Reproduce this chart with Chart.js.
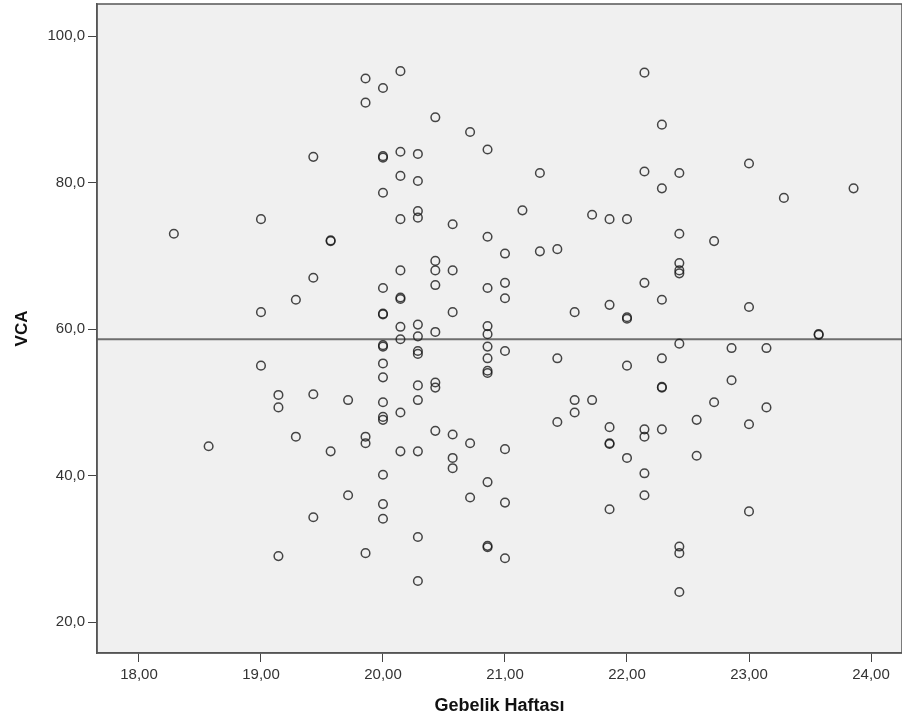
<!DOCTYPE html>
<html>
<head>
<meta charset="utf-8">
<script src="https://cdn.jsdelivr.net/npm/chart.js@4/dist/chart.umd.min.js"></script>
<style>
  html, body { margin: 0; padding: 0; background: #ffffff; }
  #wrap { width: 902px; height: 728px; }
</style>
</head>
<body>
<div id="wrap"><canvas id="c" width="902" height="728"></canvas></div>
<script>
// ---- Data ----
const gebelikHaftasi = [
  18.286,
  18.571,
  19.000, 19.000, 19.000,
  19.143, 19.143, 19.143,
  19.286, 19.286,
  19.429, 19.429, 19.429, 19.429,
  19.571, 19.571, 19.571,
  19.714, 19.714,
  19.857, 19.857, 19.857, 19.857, 19.857,
  20.000, 20.000, 20.000, 20.000, 20.000, 20.000, 20.000, 20.000, 20.000, 20.000, 20.000, 20.000, 20.000, 20.000, 20.000, 20.000, 20.000,
  20.143, 20.143, 20.143, 20.143, 20.143, 20.143, 20.143, 20.143, 20.143, 20.143, 20.143,
  20.286, 20.286, 20.286, 20.286, 20.286, 20.286, 20.286, 20.286, 20.286, 20.286, 20.286, 20.286, 20.286,
  20.429, 20.429, 20.429, 20.429, 20.429, 20.429, 20.429, 20.429,
  20.571, 20.571, 20.571, 20.571, 20.571, 20.571,
  20.714, 20.714, 20.714,
  20.857, 20.857, 20.857, 20.857, 20.857, 20.857, 20.857, 20.857, 20.857, 20.857, 20.857, 20.857,
  21.000, 21.000, 21.000, 21.000, 21.000, 21.000, 21.000,
  21.143,
  21.286, 21.286,
  21.429, 21.429, 21.429,
  21.571, 21.571, 21.571,
  21.714, 21.714,
  21.857, 21.857, 21.857, 21.857, 21.857, 21.857,
  22.000, 22.000, 22.000, 22.000, 22.000,
  22.143, 22.143, 22.143, 22.143, 22.143, 22.143, 22.143,
  22.286, 22.286, 22.286, 22.286, 22.286, 22.286, 22.286,
  22.429, 22.429, 22.429, 22.429, 22.429, 22.429, 22.429, 22.429, 22.429,
  22.571, 22.571,
  22.714, 22.714,
  22.857, 22.857,
  23.000, 23.000, 23.000, 23.000,
  23.143, 23.143,
  23.286,
  23.571, 23.571,
  23.857
];
const vca = [
  73.0,
  44.0,
  75.0, 62.3, 55.0,
  51.0, 49.3, 29.0,
  64.0, 45.3,
  83.5, 67.0, 51.1, 34.3,
  72.0, 72.1, 43.3,
  50.3, 37.3,
  94.2, 90.9, 45.3, 44.4, 29.4,
  92.9, 83.4, 83.6, 78.6, 65.6, 62.0, 62.1, 57.6, 57.8, 55.3, 53.4, 50.0, 48.0, 47.6, 40.1, 36.1, 34.1,
  95.2, 84.2, 80.9, 75.0, 68.0, 64.1, 64.3, 60.3, 58.6, 48.6, 43.3,
  83.9, 80.2, 76.1, 75.2, 60.6, 59.0, 57.0, 56.6, 52.3, 50.3, 43.3, 31.6, 25.6,
  88.9, 69.3, 68.0, 66.0, 59.6, 52.7, 52.0, 46.1,
  74.3, 68.0, 62.3, 45.6, 42.4, 41.0,
  86.9, 44.4, 37.0,
  84.5, 72.6, 65.6, 60.4, 59.3, 57.6, 56.0, 54.3, 54.0, 39.1, 30.4, 30.2,
  70.3, 66.3, 64.2, 57.0, 43.6, 36.3, 28.7,
  76.2,
  81.3, 70.6,
  70.9, 56.0, 47.3,
  62.3, 50.3, 48.6,
  75.6, 50.3,
  75.0, 63.3, 46.6, 44.3, 44.4, 35.4,
  75.0, 61.4, 61.6, 55.0, 42.4,
  95.0, 81.5, 66.3, 46.3, 45.3, 40.3, 37.3,
  87.9, 79.2, 64.0, 56.0, 52.0, 52.1, 46.3,
  81.3, 73.0, 69.0, 68.0, 67.6, 58.0, 30.3, 29.4, 24.1,
  47.6, 42.7,
  72.0, 50.0,
  57.4, 53.0,
  82.6, 63.0, 47.0, 35.1,
  57.4, 49.3,
  77.9,
  59.2, 59.3,
  79.2
];
const vcaMean = [58.6];
const xTicks = [18, 19, 20, 21, 22, 23, 24];
const xTickLabels = ['18,00', '19,00', '20,00', '21,00', '22,00', '23,00', '24,00'];
const yTicks = [20, 40, 60, 80, 100];
const yTickLabels = ['20,0', '40,0', '60,0', '80,0', '100,0'];
const xRange = [17.656, 24.254];
const yRange = [15.77, 104.37];

// ---- Build ----
const points = gebelikHaftasi.map((w, i) => ({ x: w, y: vca[i] }));
const meanLine = [{ x: xRange[0], y: vcaMean[0] }, { x: xRange[1], y: vcaMean[0] }];

const FONT = "'Liberation Sans', Arial, Helvetica, sans-serif";

const frame = {
  id: 'frame',
  beforeDraw(chart) {
    const { ctx, chartArea: a } = chart;
    ctx.save();
    ctx.fillStyle = '#ffffff';
    ctx.fillRect(0, 0, chart.width, chart.height);
    ctx.fillStyle = '#f0f0f0';
    ctx.fillRect(a.left, a.top, a.right - a.left, a.bottom - a.top);
    ctx.restore();
  },
  afterDraw(chart) {
    const { ctx, chartArea: a } = chart;
    ctx.save();
    ctx.strokeStyle = '#555555';
    ctx.lineWidth = 1.5;
    ctx.strokeRect(a.left, a.top, a.right - a.left, a.bottom - a.top);
    ctx.restore();
  }
};

new Chart(document.getElementById('c'), {
  type: 'scatter',
  data: {
    datasets: [
      {
        label: 'VCA',
        data: points,
        order: 1,
        pointStyle: 'circle',
        pointRadius: 4.3,
        pointBorderWidth: 1.5,
        pointBorderColor: 'rgba(25,25,25,0.8)',
        pointBackgroundColor: 'rgba(0,0,0,0)',
        showLine: false
      },
      {
        label: 'mean',
        data: meanLine,
        order: 2,
        showLine: true,
        borderColor: '#6e6e6e',
        borderWidth: 2,
        pointRadius: 0,
        fill: false
      }
    ]
  },
  options: {
    responsive: false,
    animation: false,
    devicePixelRatio: 1,
    layout: { autoPadding: false, padding: { top: 4, right: 0, bottom: 0, left: 0 } },
    plugins: { legend: { display: false }, tooltip: { enabled: false } },
    scales: {
      x: {
        type: 'linear',
        min: xRange[0],
        max: xRange[1],
        afterBuildTicks: s => { s.ticks = xTicks.map(v => ({ value: v })); },
        afterFit: s => { s.height = 75; s.paddingLeft = 0; s.paddingRight = 0; },
        ticks: {
          autoSkip: false,
          maxRotation: 0,
          padding: 4,
          color: '#333333',
          font: { family: FONT, size: 15 },
          callback: v => xTickLabels[xTicks.indexOf(v)]
        },
        grid: { drawOnChartArea: false, drawTicks: true, tickLength: 9, color: '#444444' },
        border: { display: true, color: '#555555', width: 1.5 },
        title: {
          display: true,
          text: 'Gebelik Haftası',
          color: '#111111',
          font: { family: FONT, size: 18, weight: 'bold' },
          padding: { top: 0, bottom: 11 }
        }
      },
      y: {
        type: 'linear',
        min: yRange[0],
        max: yRange[1],
        afterBuildTicks: s => { s.ticks = yTicks.map(v => ({ value: v })); },
        afterFit: s => { s.width = 97; s.paddingTop = 0; s.paddingBottom = 0; },
        ticks: {
          autoSkip: false,
          padding: 3,
          color: '#333333',
          font: { family: FONT, size: 15 },
          callback: v => yTickLabels[yTicks.indexOf(v)]
        },
        grid: { drawOnChartArea: false, drawTicks: true, tickLength: 9, color: '#444444' },
        border: { display: true, color: '#555555', width: 1.5 },
        title: {
          display: true,
          text: 'VCA',
          color: '#111111',
          font: { family: FONT, size: 17, weight: 'bold' },
          padding: { top: 12, bottom: 0 }
        }
      }
    }
  },
  plugins: [frame]
});
</script>
</body>
</html>
